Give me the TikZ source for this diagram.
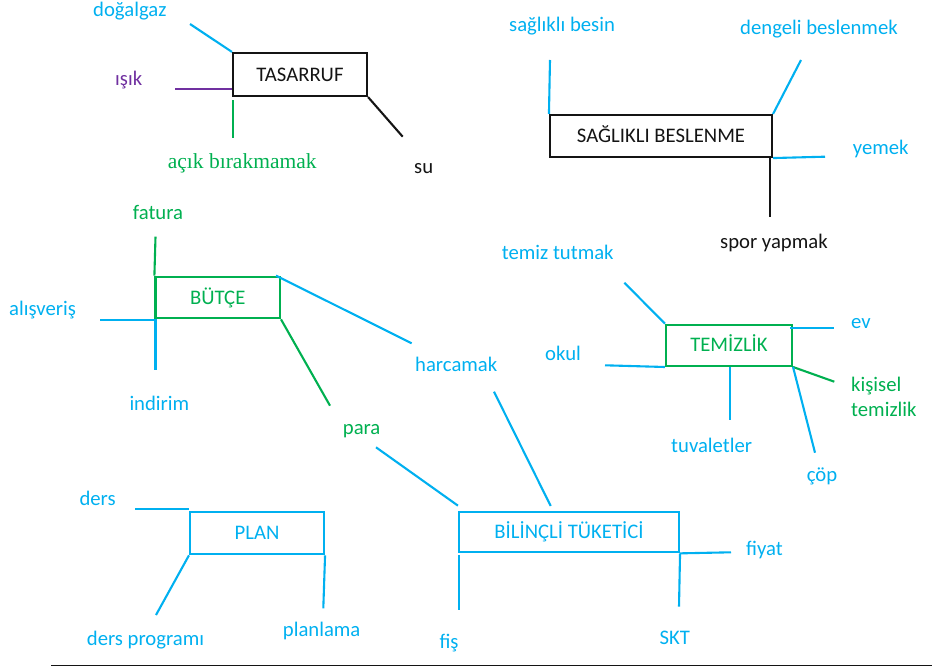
\documentclass[tikz,border=0pt]{standalone}
\usepackage{fontspec}
\setmainfont{Carlito}
\newfontfamily\serifalt{Liberation Serif}
\definecolor{skyblue}{RGB}{0,176,240}
\definecolor{leafgreen}{RGB}{0,176,80}
\definecolor{plum}{RGB}{112,48,160}
\definecolor{ink}{RGB}{20,20,20}
\begin{document}
\begin{tikzpicture}[x=1pt,y=-1pt,
  every node/.style={font=\fontsize{20.7}{24}\selectfont},
  topic/.style={draw, line width=2.1pt, inner sep=0pt, text height=13.3pt, text depth=0pt, align=center},
  lbl/.style={anchor=base west, inner sep=0pt},
  link/.style={line width=2.1pt},
]
\useasboundingbox (0,0) rectangle (932,669);

% ---------- central topics ----------
\node[topic, ink, minimum width=134pt, minimum height=43pt] (tas) at (300,74.5) {TASARRUF};
\node[topic, ink, minimum width=222pt, minimum height=42pt] (sag) at (661,136) {SAĞLIKLI BESLENME};
\node[topic, leafgreen, minimum width=124.5pt, minimum height=41.6pt] (but) at (217.7,297.5) {BÜTÇE};
\node[topic, leafgreen, minimum width=126pt, minimum height=41.3pt] (tem) at (729,345.3) {TEMİZLİK};
\node[topic, skyblue, minimum width=134pt, minimum height=42pt] (plan) at (257,533.3) {PLAN};
\node[topic, skyblue, minimum width=220pt, minimum height=40.6pt] (bil) at (569,532) {BİLİNÇLİ TÜKETİCİ};

% ---------- labels ----------
\node[lbl, skyblue] (l-dogalgaz) at (93,17) {doğalgaz};
\node[lbl, plum] (l-isik) at (115,85) {ışık};
\node[lbl, leafgreen, font=\serifalt\fontsize{21.5}{24}\selectfont] (l-acik) at (167.7,168.3) {açık bırakmamak};
\node[lbl, ink] (l-su) at (414,173.3) {su};

\node[lbl, skyblue] (l-besin) at (509,31.7) {sağlıklı besin};
\node[lbl, skyblue] (l-dengeli) at (740,35) {dengeli beslenmek};
\node[lbl, skyblue] (l-yemek) at (852.7,154) {yemek};
\node[lbl, ink] (l-spor) at (720,248.3) {spor yapmak};

\node[lbl, leafgreen] (l-fatura) at (132.7,219) {fatura};
\node[lbl, skyblue] (l-alisveris) at (9,315.7) {alışveriş};
\node[lbl, skyblue] (l-indirim) at (129.3,410) {indirim};
\node[lbl, skyblue] (l-harcamak) at (415,371.7) {harcamak};
\node[lbl, leafgreen] (l-para) at (342.7,434) {para};

\node[lbl, skyblue] (l-temiz) at (501.7,259.3) {temiz tutmak};
\node[lbl, skyblue] (l-ev) at (851,328.3) {ev};
\node[lbl, skyblue] (l-okul) at (545,360.7) {okul};
\node[lbl, leafgreen] (l-kisisel) at (851,391.7) {kişisel};
\node[lbl, leafgreen] (l-kisisel2) at (851,416.7) {temizlik};
\node[lbl, skyblue] (l-tuvalet) at (671,452.7) {tuvaletler};
\node[lbl, skyblue] (l-cop) at (806.7,481.7) {çöp};

\node[lbl, skyblue] (l-ders) at (79.3,505) {ders};
\node[lbl, skyblue] (l-program) at (86.7,645) {ders programı};
\node[lbl, skyblue] (l-planlama) at (282.7,636.7) {planlama};

\node[lbl, skyblue] (l-fiyat) at (746,555) {fiyat};
\node[lbl, skyblue] (l-fis) at (439.3,648.3) {fiş};
\node[lbl, skyblue] (l-skt) at (659.3,644) {SKT};

% ---------- free ends of the branches ----------
\coordinate (e-dogalgaz) at (190,24);
\coordinate (e-isik) at (175,89);
\coordinate (e-acik1) at (233,100);
\coordinate (e-acik2) at (233,138);
\coordinate (e-su) at (402.7,136.7);
\coordinate (e-besin) at (550,60);
\coordinate (e-dengeli) at (801,60);
\coordinate (e-yemek) at (825,156.7);
\coordinate (e-spor) at (770,216.7);
\coordinate (e-fatura) at (155.5,236.7);
\coordinate (e-alisveris) at (100,319.7);
\coordinate (e-indirim) at (155.5,370);
\coordinate (e-harcamak) at (411.7,343.3);
\coordinate (e-para) at (330,405.7);
\coordinate (e-para2) at (376,447.3);
\coordinate (e-harc2a) at (494,391.7);
\coordinate (e-harc2b) at (550.7,506);
\coordinate (e-temiz) at (624.3,282.7);
\coordinate (e-ev1) at (790,327.7);
\coordinate (e-ev2) at (834.3,327.7);
\coordinate (e-okul) at (605,365.3);
\coordinate (e-kisisel) at (834.3,381.7);
\coordinate (e-cop) at (815,452.7);
\coordinate (e-tuvalet) at (730,420);
\coordinate (e-ders) at (135,509.3);
\coordinate (e-program) at (156,615);
\coordinate (e-planlama) at (323.3,608.3);
\coordinate (e-fiyat) at (731,552.3);
\coordinate (e-fis1) at (459,555);
\coordinate (e-fis2) at (459,610);
\coordinate (e-skt) at (679,606.7);
\coordinate (rule-l) at (51,665.7);
\coordinate (rule-r) at (932,665.7);

% ---------- branches ----------
\draw[link, skyblue] (e-dogalgaz) -- (tas.north west);
\draw[link, plum] (e-isik) -- (e-isik -| tas.west);
\draw[link, leafgreen] (e-acik1) -- (e-acik2);
\draw[link, ink] (tas.south east) -- (e-su);

\draw[link, skyblue] (e-besin) -- (sag.north west);
\draw[link, skyblue] (e-dengeli) -- (sag.north east);
\draw[link, skyblue] (sag.south east) -- (e-yemek);
\draw[link, ink] (e-spor |- sag.south) -- (e-spor);

\draw[link, leafgreen] (e-fatura) -- (but.north west);
\draw[link, skyblue] (e-alisveris) -- (e-alisveris -| but.west);
\draw[link, skyblue] (e-indirim |- but.south) -- (e-indirim);
\draw[link, skyblue] ([xshift=-5pt]but.north east) -- (e-harcamak);
\draw[link, leafgreen] (but.south east) -- (e-para);

\draw[link, skyblue] (e-para2) -- ([yshift=5pt]bil.north west);
\draw[link, skyblue] (e-harc2a) -- (e-harc2b);

\draw[link, skyblue] (e-temiz) -- (tem.north west);
\draw[link, skyblue] (e-ev1) -- (e-ev2);
\draw[link, skyblue] (e-okul) -- (tem.south west);
\draw[link, leafgreen] (tem.south east) -- (e-kisisel);
\draw[link, skyblue] (tem.south east) -- (e-cop);
\draw[link, skyblue] (e-tuvalet |- tem.south) -- (e-tuvalet);

\draw[link, skyblue] (e-ders) -- (e-ders -| plan.west);
\draw[link, skyblue] (plan.south west) -- (e-program);
\draw[link, skyblue] (plan.south east) -- (e-planlama);

\draw[link, skyblue] (bil.south east) -- (e-fiyat);
\draw[link, skyblue] (e-fis1) -- (e-fis2);
\draw[link, skyblue] (bil.south east) -- (e-skt);

% ---------- bottom rule ----------
\draw[line width=1.5pt, ink] (rule-l) -- (rule-r);
\end{tikzpicture}
\end{document}
